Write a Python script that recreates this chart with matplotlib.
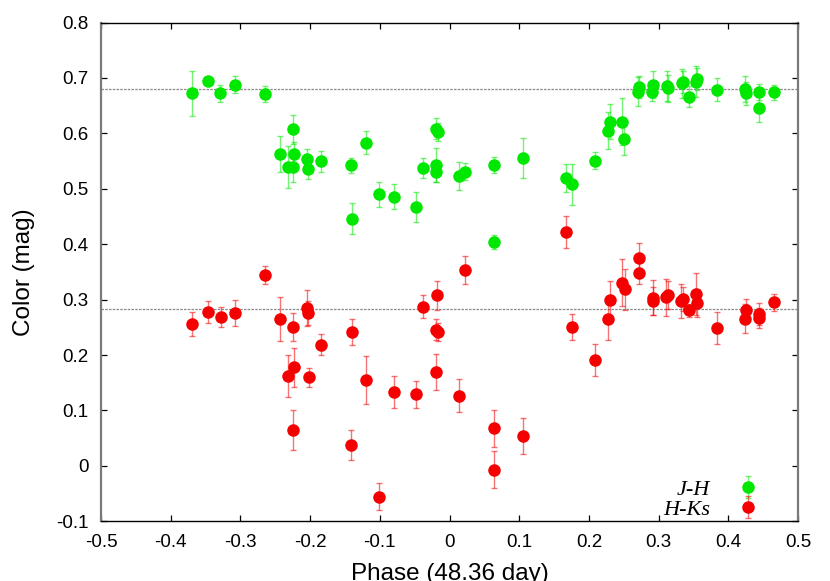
import matplotlib
matplotlib.use("Agg")
import matplotlib.pyplot as plt
from matplotlib.ticker import FixedLocator, FixedFormatter

# ---------------- data ----------------
jh_phase = [-0.370, -0.347, -0.329, -0.308, -0.265, -0.243, -0.231, -0.225, -0.223, -0.224,
            -0.204, -0.203, -0.184, -0.142, -0.140, -0.120, -0.101, -0.080, -0.048, -0.038,
            -0.019, -0.017, -0.019, -0.020, 0.014, 0.022, 0.0635, 0.0645, 0.1055, 0.1667,
            0.1757, 0.209, 0.228, 0.2307, 0.248, 0.251, 0.272, 0.271, 0.292, 0.291,
            0.312, 0.314, 0.333, 0.335, 0.343, 0.353, 0.355, 0.3835, 0.424, 0.426,
            0.4446, 0.4437, 0.4656]
jh_color = [0.672, 0.694, 0.672, 0.688, 0.671, 0.563, 0.539, 0.607, 0.563, 0.539,
            0.553, 0.536, 0.550, 0.542, 0.446, 0.583, 0.490, 0.486, 0.467, 0.537,
            0.608, 0.602, 0.543, 0.530, 0.523, 0.531, 0.404, 0.543, 0.555, 0.519,
            0.508, 0.551, 0.605, 0.621, 0.621, 0.589, 0.684, 0.675, 0.688, 0.674,
            0.685, 0.681, 0.690, 0.693, 0.666, 0.693, 0.698, 0.679, 0.680, 0.672,
            0.675, 0.645, 0.674]
jh_err = [0.041, 0.006, 0.016, 0.016, 0.014, 0.033, 0.038, 0.027, 0.022, 0.027,
          0.018, 0.018, 0.019, 0.014, 0.028, 0.021, 0.023, 0.023, 0.027, 0.018,
          0.019, 0.016, 0.030, 0.018, 0.026, 0.015, 0.012, 0.015, 0.036, 0.025,
          0.037, 0.015, 0.033, 0.032, 0.042, 0.028, 0.020, 0.026, 0.025, 0.016,
          0.027, 0.025, 0.027, 0.020, 0.019, 0.028, 0.020, 0.021, 0.023, 0.021,
          0.014, 0.024, 0.014]

hk_phase = [-0.370, -0.347, -0.3285, -0.308, -0.2646, -0.2425, -0.231, -0.2245, -0.2225, -0.225,
            -0.204, -0.2034, -0.202, -0.184, -0.140, -0.1418, -0.1203, -0.1013, -0.080, -0.048,
            -0.0377, -0.018, -0.019, -0.0167, -0.0196, 0.0139, 0.0225, 0.0645, 0.064, 0.106,
            0.1667, 0.1757, 0.209, 0.228, 0.2307, 0.248, 0.2517, 0.2713, 0.2722, 0.2913,
            0.2923, 0.3113, 0.3133, 0.3328, 0.3348, 0.3434, 0.353, 0.355, 0.3835, 0.424,
            0.426, 0.4437, 0.4446, 0.4656]
hk_color = [0.2555, 0.2777, 0.2687, 0.276, 0.345, 0.265, 0.162, 0.2506, 0.178, 0.0648,
            0.285, 0.276, 0.160, 0.219, 0.242, 0.0377, 0.155, -0.0555, 0.134, 0.129,
            0.287, 0.308, 0.246, 0.242, 0.1694, 0.1267, 0.354, 0.0678, -0.0068, 0.054,
            0.4215, 0.2506, 0.191, 0.2657, 0.300, 0.3306, 0.3186, 0.375, 0.3486, 0.3035,
            0.298, 0.304, 0.308, 0.2975, 0.301, 0.2807, 0.3096, 0.294, 0.2494, 0.2657,
            0.2813, 0.2735, 0.2675, 0.295]
hk_err = [0.022, 0.020, 0.018, 0.023, 0.016, 0.039, 0.038, 0.026, 0.035, 0.036,
          0.032, 0.022, 0.017, 0.019, 0.023, 0.027, 0.044, 0.025, 0.029, 0.024,
          0.021, 0.026, 0.019, 0.016, 0.033, 0.030, 0.025, 0.033, 0.034, 0.033,
          0.029, 0.023, 0.029, 0.038, 0.034, 0.042, 0.037, 0.027, 0.021, 0.031,
          0.025, 0.033, 0.025, 0.030, 0.022, 0.012, 0.038, 0.025, 0.029, 0.026,
          0.020, 0.020, 0.018, 0.015]

ref_levels = [0.68, 0.283]

x_ticks = [-0.5, -0.4, -0.3, -0.2, -0.1, 0.0, 0.1, 0.2, 0.3, 0.4, 0.5]
x_tick_labels = ["-0.5", "-0.4", "-0.3", "-0.2", "-0.1", "0", "0.1", "0.2", "0.3", "0.4", "0.5"]
y_ticks = [-0.1, 0.0, 0.1, 0.2, 0.3, 0.4, 0.5, 0.6, 0.7, 0.8]
y_tick_labels = ["-0.1", "0", "0.1", "0.2", "0.3", "0.4", "0.5", "0.6", "0.7", "0.8"]

series_labels = ["J-H", "H-Ks"]

# ---------------- style ----------------
plt.rcParams['font.family'] = ['Liberation Sans', 'DejaVu Sans']
green = '#00e800'
red = '#f40000'

fig = plt.figure(figsize=(8.3, 5.81), dpi=100)
ax = fig.add_axes([101/830, 1 - 521.3/581, 697/830, 498.8/581])

for lvl in ref_levels:
    ax.axhline(lvl, color='#8a8a8a', lw=0.9, ls=(0, (2, 1)), zorder=1)

def draw(px, py, pe, col, lab):
    cont = ax.errorbar(px, py, yerr=pe, fmt='o', color=col, ms=8, mec=col,
                       ecolor=col, elinewidth=1.0, capsize=2.3, capthick=1.0,
                       label=lab, zorder=3)
    for ln in cont[1]:
        ln.set_alpha(0.55)
    for ln in cont[2]:
        ln.set_alpha(0.55)
    return cont

c1 = draw(jh_phase, jh_color, jh_err, green, series_labels[0])
c2 = draw(hk_phase, hk_color, hk_err, red, series_labels[1])

ax.set_xlim(-0.5, 0.5)
ax.set_ylim(-0.1, 0.8)
ax.xaxis.set_major_locator(FixedLocator(x_ticks))
ax.xaxis.set_major_formatter(FixedFormatter(x_tick_labels))
ax.yaxis.set_major_locator(FixedLocator(y_ticks))
ax.yaxis.set_major_formatter(FixedFormatter(y_tick_labels))
ax.tick_params(direction='in', length=4, width=0.9, top=True, right=True,
               labelsize=13.5, pad=9)

for s in ['left', 'right']:
    ax.spines[s].set_color('#7a7a7a')
    ax.spines[s].set_linewidth(1.6)
for s in ['top', 'bottom']:
    ax.spines[s].set_color('black')
    ax.spines[s].set_linewidth(1.0)

ax.set_xlabel('Phase (48.36 day)', fontsize=17.5, labelpad=9)
ax.set_ylabel('Color (mag)', fontsize=17.5, labelpad=15)

leg = ax.legend(handles=[c1, c2], labels=series_labels, loc='lower right',
                bbox_to_anchor=(0.963, -0.002), borderaxespad=0.0, borderpad=0.1,
                frameon=False, markerfirst=False, handlelength=2.0,
                handletextpad=0.7, labelspacing=0.0,
                prop={'family': 'Liberation Serif', 'style': 'italic', 'size': 16})

fig.savefig('out.png', dpi=100)
